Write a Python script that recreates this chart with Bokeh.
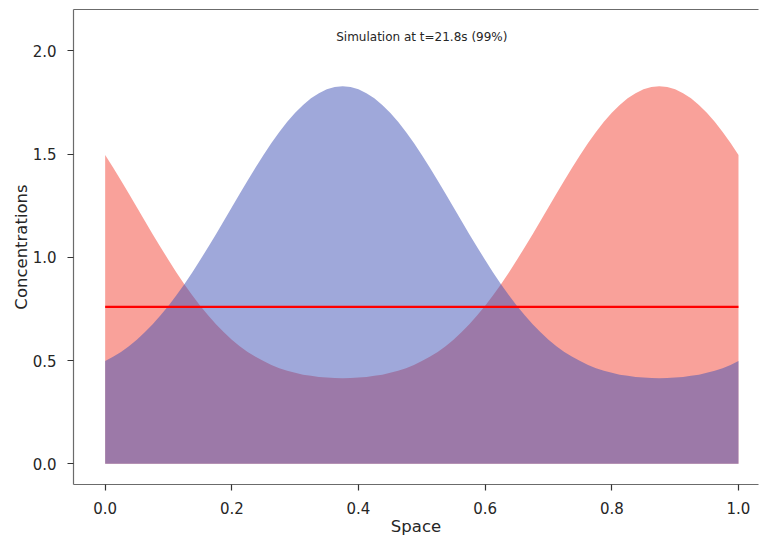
from bokeh.plotting import figure
from bokeh.models import Label, LinearAxis, FixedTicker, PrintfTickFormatter, Range1d
from bokeh.embed import file_html
from bokeh.resources import INLINE

# ---- data (81 sample points across space) ----
space = [i / 80 for i in range(81)]

conc_red = [1.496, 1.435, 1.372, 1.308, 1.243, 1.177, 1.112, 1.049, 0.987, 0.927,
            0.870, 0.816, 0.766, 0.719, 0.676, 0.637, 0.601, 0.570, 0.542, 0.518,
            0.498, 0.479, 0.463, 0.451, 0.441, 0.432, 0.426, 0.421, 0.418, 0.416,
            0.415,
            0.416, 0.418, 0.421, 0.426, 0.432, 0.441, 0.451, 0.463, 0.479, 0.498,
            0.518, 0.542, 0.570, 0.601, 0.637, 0.676, 0.719, 0.766, 0.816, 0.870,
            0.927, 0.987, 1.049, 1.112, 1.177, 1.243, 1.308, 1.372, 1.435, 1.496,
            1.553, 1.607, 1.656, 1.700, 1.738, 1.770, 1.795, 1.814, 1.825, 1.828,
            1.825, 1.814, 1.795, 1.770, 1.738, 1.700, 1.656, 1.607, 1.553, 1.496]

conc_blue = [0.498, 0.518, 0.542, 0.570, 0.601, 0.637, 0.676, 0.719, 0.766, 0.816,
             0.870, 0.927, 0.987, 1.049, 1.112, 1.177, 1.243, 1.308, 1.372, 1.435,
             1.496, 1.553, 1.607, 1.656, 1.700, 1.738, 1.770, 1.795, 1.814, 1.825,
             1.828,
             1.825, 1.814, 1.795, 1.770, 1.738, 1.700, 1.656, 1.607, 1.553, 1.496,
             1.435, 1.372, 1.308, 1.243, 1.177, 1.112, 1.049, 0.987, 0.927, 0.870,
             0.816, 0.766, 0.719, 0.676, 0.637, 0.601, 0.570, 0.542, 0.518, 0.498,
             0.479, 0.463, 0.451, 0.441, 0.432, 0.426, 0.421, 0.418, 0.416, 0.415,
             0.416, 0.418, 0.421, 0.426, 0.432, 0.441, 0.451, 0.463, 0.479, 0.498]

mean_level = 0.76
title_text = "Simulation at t=21.8s (99%)"
x_ticks = [0.0, 0.2, 0.4, 0.6, 0.8, 1.0]
y_ticks = [0.0, 0.5, 1.0, 1.5, 2.0]
x_label = "Space"
y_label = "Concentrations"

FONT = "DejaVu Sans"
SPINE = "#6b6b6b"
TEXT = "#262626"

p = figure(width=759, height=538,
           x_range=Range1d(-0.05, 1.0316), y_range=Range1d(-0.1, 2.2),
           output_backend="svg", toolbar_location=None,
           min_border_left=73, min_border_right=1,
           min_border_top=9, min_border_bottom=53)

p.xgrid.visible = False
p.ygrid.visible = False
p.outline_line_color = None
p.background_fill_color = "white"
p.border_fill_color = "white"

p.varea(x=space, y1=0, y2=conc_red, fill_color="#F44336", fill_alpha=0.5)
p.varea(x=space, y1=0, y2=conc_blue, fill_color="#3F51B5", fill_alpha=0.5)
p.line(x=[space[0], space[-1]], y=[mean_level, mean_level],
       line_color="#ff0000", line_width=2.2)

for ax in (p.xaxis[0], p.yaxis[0]):
    ax.axis_line_color = SPINE
    ax.axis_line_width = 1.2
    ax.major_tick_line_color = "#333333"
    ax.major_tick_line_width = 1.2
    ax.major_tick_out = 6
    ax.major_tick_in = 0
    ax.minor_tick_line_color = None
    ax.major_label_text_font = FONT
    ax.major_label_text_font_size = "15px"
    ax.major_label_text_color = TEXT
    ax.axis_label_text_font = FONT
    ax.axis_label_text_font_size = "16.5px"
    ax.axis_label_text_font_style = "normal"
    ax.axis_label_text_color = TEXT
    ax.formatter = PrintfTickFormatter(format="%.1f")

p.xaxis[0].ticker = FixedTicker(ticks=x_ticks)
p.yaxis[0].ticker = FixedTicker(ticks=y_ticks)
p.xaxis[0].axis_label = x_label
p.yaxis[0].axis_label = y_label
p.xaxis[0].major_label_standoff = 11
p.xaxis[0].axis_label_standoff = 0
p.yaxis[0].major_label_standoff = 11
p.yaxis[0].axis_label_standoff = -1

top = LinearAxis(ticker=FixedTicker(ticks=[]), axis_line_color=SPINE,
                 axis_line_width=1.2,
                 major_tick_line_color=None, minor_tick_line_color=None,
                 major_label_text_font_size="0px", major_label_standoff=0)
p.add_layout(top, "above")

p.add_layout(Label(x=0.5, y=2.066, text=title_text, text_align="center",
                   text_baseline="alphabetic", text_font=FONT,
                   text_font_size="12px", text_color=TEXT))

open("out.html", "w").write(file_html(p, INLINE))
